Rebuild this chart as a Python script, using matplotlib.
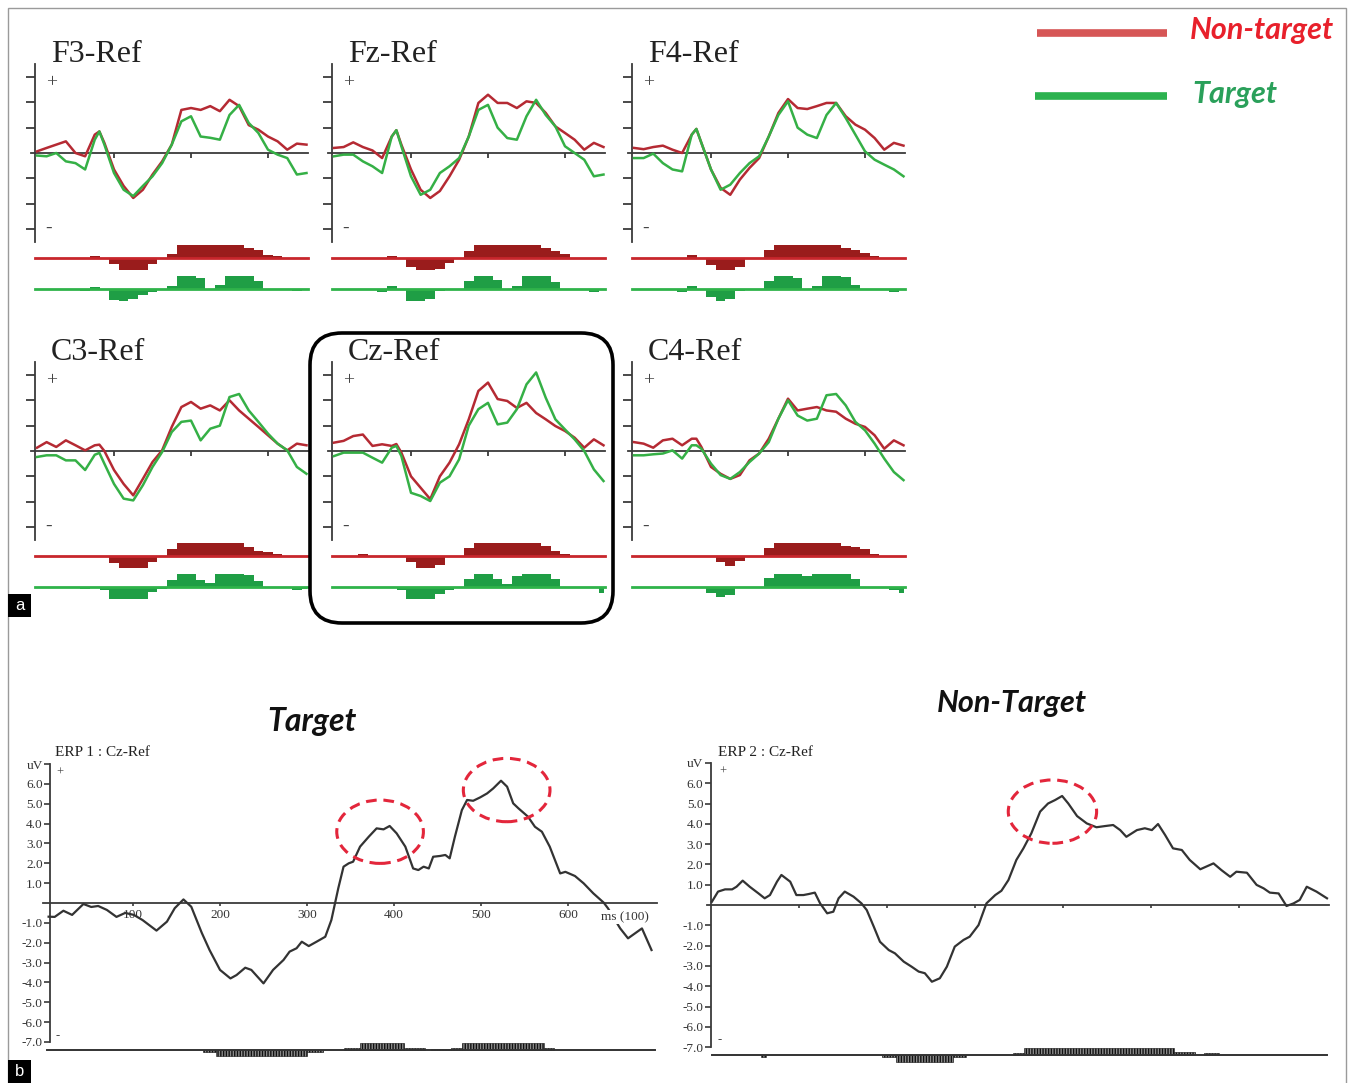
import numpy as np
import matplotlib
matplotlib.use('Agg')
import matplotlib.pyplot as plt
from matplotlib.patches import FancyBboxPatch, Rectangle, Ellipse

plt.rcParams['font.family'] = ['Liberation Serif', 'DejaVu Serif']

# ---- top grid: grand averages (uV), 0..700 ms every 25 ms plus the early peak at 162 ms ----
t_top = [0, 25, 50, 75, 100, 125, 150, 162, 175, 200, 225, 250, 275, 300, 325, 350, 375, 400, 425,
         450, 475, 500, 525, 550, 575, 600, 625, 650, 675, 700]

f3_nt = [0.13, 0.4, 0.66, 0.92, 0.0, -0.26, 1.45, 1.7, 0.8, -1.3, -2.6, -3.55, -2.9, -1.7, -0.66, 0.66,
         3.4, 3.55, 3.4, 3.7, 3.3, 4.2, 3.7, 2.2, 1.84, 1.3, 0.92, 0.26, 0.74, 0.66]
f3_t = [-0.2, -0.26, 0.0, -0.66, -0.8, -1.3, 1.05, 1.7, 0.66, -1.58, -2.9, -3.4, -2.6, -1.84, -0.8, 0.66,
        2.5, 2.9, 1.3, 1.2, 1.05, 3.0, 3.8, 2.37, 1.58, 0.26, -0.13, -0.4, -1.7, -1.58]
fz_nt = [0.4, 0.47, 0.84, 0.47, 0.2, -0.4, 1.3, 1.8, 0.66, -1.3, -2.9, -3.55, -3.0, -1.84, -0.53, 1.3,
         3.95, 4.6, 3.95, 3.95, 3.55, 4.08, 3.95, 3.16, 2.1, 1.58, 1.05, 0.26, 0.8, 0.47]
fz_t = [-0.26, -0.13, -0.13, -0.66, -1.05, -1.58, 1.3, 1.8, 0.53, -1.84, -3.3, -2.9, -1.58, -1.05, -0.4, 1.3,
        3.4, 3.8, 2.0, 1.18, 1.05, 2.9, 4.2, 3.0, 2.1, 0.53, 0.0, -0.53, -1.84, -1.7]
f4_nt = [0.4, 0.3, 0.47, 0.58, 0.26, 0.0, 1.45, 1.9, 0.8, -1.3, -2.75, -3.3, -2.1, -1.18, -0.4, 1.3,
         3.16, 4.26, 3.55, 3.47, 3.7, 3.95, 3.95, 2.9, 2.24, 1.84, 1.18, 0.26, 0.8, 0.58]
f4_t = [-0.4, -0.4, -0.05, -0.8, -1.3, -1.45, 1.45, 1.9, 0.8, -1.3, -2.9, -2.5, -1.58, -0.8, -0.26, 1.3,
        3.0, 4.08, 2.0, 1.45, 1.18, 3.0, 3.95, 2.76, 1.45, 0.13, -0.53, -0.92, -1.3, -1.84]
c3_nt = [0.26, 0.7, 0.32, 0.84, 0.45, 0.05, 0.45, 0.5, 0.0, -1.5, -2.6, -3.5, -2.2, -0.87, 0.05, 1.9,
         3.47, 3.87, 3.34, 3.6, 3.2, 4.0, 3.2, 2.55, 1.9, 1.24, 0.58, 0.05, 0.58, 0.45]
c3_t = [-0.47, -0.34, -0.34, -0.74, -0.74, -1.5, -0.3, -0.15, -1.0, -2.6, -3.76, -3.9, -2.7, -1.26, -0.08, 1.5,
        2.3, 2.4, 0.84, 1.76, 2.0, 4.26, 4.5, 3.2, 2.3, 1.37, 0.58, 0.05, -1.26, -1.8]
cz_nt = [0.66, 0.8, 1.18, 1.3, 0.4, 0.53, 0.4, 0.55, -0.13, -2.0, -2.9, -3.8, -2.0, -0.92, 0.53, 2.5,
         4.74, 5.4, 4.1, 3.95, 3.4, 3.8, 3.0, 2.5, 1.97, 1.58, 1.05, 0.26, 0.92, 0.45]
cz_t = [-0.4, -0.13, -0.13, -0.13, -0.53, -0.92, 0.26, 0.4, -0.4, -3.3, -3.55, -3.95, -2.5, -2.0, -0.66, 2.0,
        3.3, 3.8, 2.1, 2.24, 3.3, 5.26, 6.2, 4.2, 2.5, 1.7, 0.92, 0.0, -1.45, -2.37]
c4_nt = [0.7, 0.58, 0.26, 0.84, 0.97, 0.45, 0.97, 0.97, 0.32, -1.26, -1.8, -2.2, -1.9, -0.74, -0.2, 0.97,
         2.55, 4.13, 3.2, 3.34, 3.47, 3.2, 3.1, 2.55, 2.15, 1.9, 1.24, 0.18, 0.84, 0.45]
c4_t = [-0.34, -0.34, -0.26, -0.2, 0.05, -0.6, 0.45, 0.45, 0.18, -1.0, -1.9, -2.2, -1.66, -0.87, -0.2, 0.7,
        2.55, 4.0, 2.8, 2.4, 2.55, 4.4, 4.5, 3.6, 2.3, 1.63, 0.58, -0.6, -1.66, -2.3]

# significance strips under each channel (relative height, 25 ms bins)
t_sig = np.arange(0, 701, 25)
f3_nt_sig = [0, 0, 0, 0, 0, 0, 0.1, 0, -0.5, -1, -1, -1, -0.5, 0, 0.3, 1, 1, 1, 1, 1, 1, 1, 0.8, 0.6, 0.2, 0.1, 0, 0, 0]
f3_t_sig = [0, 0, 0, 0, 0, -0.2, 0.1, -0.1, -0.9, -1, -0.8, -0.5, -0.3, 0, 0.2, 1, 1, 0.8, 0, 0.3, 1, 1, 1, 0.6, 0, 0, 0, -0.2, 0]
fz_nt_sig = [0, 0, 0, 0, 0, 0, 0.15, 0, -0.7, -1, -1, -0.9, -0.4, 0, 0.5, 1, 1, 1, 1, 1, 1, 1, 0.8, 0.5, 0.3, 0, 0, 0, 0]
fz_t_sig = [0, 0, 0, 0, 0, -0.3, 0.2, 0, -1, -1, -0.8, -0.2, 0, 0, 0.6, 1, 1, 0.7, 0, 0.2, 1, 1, 1, 0.5, 0, 0, 0, -0.3, 0]
f4_nt_sig = [0, 0, 0, 0, 0, 0, 0.2, 0, -0.6, -1, -1, -0.7, 0, 0, 0.6, 1, 1, 1, 1, 1, 1, 1, 0.8, 0.6, 0.4, 0.1, 0, 0, 0]
f4_t_sig = [0, 0, 0, 0, 0, -0.3, 0.2, 0, -0.7, -1, -0.8, -0.2, 0, 0, 0.6, 1, 1, 0.8, 0, 0.2, 1, 1, 0.9, 0.3, 0, 0, 0, -0.3, 0]
c3_nt_sig = [0, 0, 0, 0, 0, 0, 0, 0, -0.6, -1, -1, -1, -0.5, 0, 0.5, 1, 1, 1, 1, 1, 1, 1, 0.7, 0.4, 0.3, 0.1, 0, 0, 0]
c3_t_sig = [0, 0, 0, 0, 0, -0.2, 0, -0.3, -1, -1, -1, -1, -0.4, -0.2, 0.5, 1, 1, 0.5, 0.3, 1, 1, 1, 0.9, 0.4, 0, 0, 0, -0.3, -0.2]
cz_nt_sig = [0, 0, 0, 0.1, 0, 0, 0, 0, -0.5, -1, -1, -0.7, -0.1, 0, 0.6, 1, 1, 1, 1, 1, 1, 1, 0.8, 0.4, 0.1, 0, 0, 0, 0]
cz_t_sig = [0, 0, 0, 0, 0, 0, 0, -0.3, -1, -1, -1, -0.6, -0.3, 0, 0.6, 1, 1, 0.6, 0.2, 0.8, 1, 1, 1, 0.6, 0, 0, 0, 0, -0.5]
c4_nt_sig = [0, 0, 0, 0, 0, 0, 0, 0, 0, -0.5, -0.8, -0.4, 0, 0, 0.6, 1, 1, 1, 1, 1, 1, 1, 0.8, 0.7, 0.5, 0.1, 0, 0, 0]
c4_t_sig = [0, 0, 0, 0, 0, 0, 0, 0, -0.5, -0.8, -0.7, 0, 0, 0, 0.7, 1, 1, 1, 0.8, 1, 1, 1, 1, 0.6, 0, 0, 0, -0.3, -0.5]

# ---- bottom: Cz-Ref ERPs ----
tgt_ms = [3, 10, 20, 30, 43, 52, 60, 70, 81, 91, 101, 111, 127, 139, 148, 158, 167, 179, 188, 200,
          212, 219, 229, 236, 250, 261, 273, 280, 288, 294, 302, 311, 321, 328, 336, 342, 348, 353,
          361, 371, 380, 388, 395, 403, 413, 422, 428, 434, 440, 445, 453, 459, 464, 470, 478, 484,
          491, 499, 507, 514, 523, 530, 537, 543, 554, 562, 570, 579, 591, 597, 608, 618, 629, 641,
          646, 660, 669, 685, 696]
tgt_uv = [-0.69, -0.7, -0.39, -0.6, -0.05, -0.2, -0.15, -0.35, -0.7, -0.5, -0.6, -0.86, -1.39, -0.94,
          -0.26, 0.18, -0.19, -1.5, -2.37, -3.37, -3.8, -3.63, -3.26, -3.37, -4.05, -3.37, -2.87,
          -2.45, -2.28, -1.95, -2.17, -1.95, -1.7, -0.86, 0.75, 1.83, 2.0, 2.08, 2.84, 3.34, 3.76,
          3.71, 3.88, 3.51, 2.84, 1.74, 1.66, 1.83, 1.74, 2.33, 2.37, 2.42, 2.25, 3.34, 4.68, 5.19,
          5.15, 5.32, 5.52, 5.77, 6.16, 5.86, 5.02, 4.77, 4.35, 3.84, 3.59, 2.84, 1.49, 1.57, 1.36,
          0.99, 0.49, 0.02, -0.27, -1.28, -1.78, -1.28, -2.37]
ntg_ms = [1, 8, 16, 24, 29, 36, 44, 54, 61, 67, 75, 80, 90, 97, 105, 111, 118, 124, 132, 139, 145,
          152, 162, 171, 177, 185, 192, 202, 209, 219, 228, 236, 243, 251, 260, 268, 277, 287, 294,
          304, 313, 323, 330, 338, 347, 355, 364, 374, 383, 391, 399, 406, 416, 427, 438, 448, 457,
          465, 472, 484, 493, 501, 508, 516, 525, 535, 544, 556, 571, 580, 590, 597, 609, 620, 628,
          635, 645, 654, 662, 669, 677, 688, 700]
ntg_uv = [0.16, 0.66, 0.77, 0.77, 0.9, 1.2, 0.9, 0.57, 0.33, 0.49, 1.15, 1.48, 1.15, 0.49, 0.49, 0.54,
          0.61, 0.08, -0.41, -0.33, 0.33, 0.66, 0.41, 0.08, -0.25, -1.07, -1.81, -2.22, -2.38, -2.79,
          -3.04, -3.28, -3.36, -3.78, -3.61, -3.04, -2.05, -1.72, -1.56, -0.99, 0.08, 0.49, 0.7, 1.23,
          2.22, 2.79, 3.53, 4.6, 5.0, 5.17, 5.37, 5.0, 4.38, 4.02, 3.83, 3.89, 3.94, 3.69, 3.36, 3.69,
          3.78, 3.69, 3.99, 3.45, 2.79, 2.71, 2.22, 1.76, 2.05, 1.72, 1.39, 1.64, 1.59, 0.99, 0.82,
          0.61, 0.57, -0.05, 0.08, 0.25, 0.9, 0.66, 0.33]

# significant spans (start ms, end ms, bar height)
tgt_spans = [(180, 195, -0.12), (195, 300, -0.32), (300, 318, -0.12), (342, 361, 0.12), (361, 412, 0.34),
             (412, 436, 0.1), (442, 466, 0.06), (466, 478, 0.12), (478, 572, 0.34), (572, 584, 0.12)]
ntg_spans = [(57, 62, -0.1), (194, 210, -0.12), (210, 275, -0.32), (275, 290, -0.12), (343, 356, 0.12),
             (356, 526, 0.34), (526, 550, 0.14), (560, 577, 0.08)]

# highlighted peaks: (ms, uV, width ms, height uV)
tgt_peaks = [(384, 3.59, 99.6, 3.19), (529.5, 5.69, 99.6, 3.19)]
ntg_peaks = [(388, 4.6, 100.4, 3.12)]

uv_ticks = [-7, -6, -5, -4, -3, -2, -1, 1, 2, 3, 4, 5, 6, 7]
uv_labels = ['-7.0', '-6.0', '-5.0', '-4.0', '-3.0', '-2.0', '-1.0', '1.0', '2.0', '3.0', '4.0', '5.0', '6.0', 'uV']
ms_ticks = [100, 200, 300, 400, 500, 600]

RED = '#b52a33'
GREEN = '#35b046'
RED_FILL = '#9a1c1c'
GREEN_FILL = '#1f9e45'
AX = '#3a3a3a'

W, H = 1350, 1083
fig = plt.figure(figsize=(W / 100, H / 100), dpi=100)


def add_box(x0, y0, x1, y1, **kw):
  return fig.add_axes([x0 / W, 1 - y1 / H, (x1 - x0) / W, (y1 - y0) / H], **kw)


PX_MS = 0.385
PX_UV = 12.67


def top_panel(t0, zy, nt, tg, nt_sig, tg_sig):
  ax = add_box(t0 - 20, zy - 100, t0 + 285, zy + 150)
  ax.set_xlim(-20 / PX_MS, 285 / PX_MS)
  ax.set_ylim(-150 / PX_UV, 100 / PX_UV)
  ax.patch.set_alpha(0)
  for s in ['top', 'right']:
    ax.spines[s].set_visible(False)
  ax.spines['left'].set_position(('data', -6))
  ax.spines['left'].set_bounds(-7, 7)
  ax.spines['bottom'].set_position(('data', 0))
  ax.spines['bottom'].set_bounds(-15, 703)
  for s in ['left', 'bottom']:
    ax.spines[s].set_color(AX)
    ax.spines[s].set_linewidth(1.3)
  ax.set_yticks([-6, -4, -2, 2, 4, 6])
  ax.set_xticks([200, 400, 600])
  ax.tick_params(axis='y', direction='out', length=6.5, width=1.3, color=AX, labelleft=False)
  ax.tick_params(axis='x', direction='out', length=3.5, width=1.3, color=AX, labelbottom=False)
  ax.plot(t_top, nt, color=RED, lw=1.8, zorder=3)
  ax.plot(t_top, tg, color=GREEN, lw=1.8, zorder=3)
  red_base = -104.7 / PX_UV
  green_base = -135.5 / PX_UV
  ax.fill_between(t_sig, red_base, red_base + np.array(nt_sig), step='mid', color=RED_FILL, lw=0)
  ax.fill_between(t_sig, green_base, green_base + np.array(tg_sig), step='mid', color=GREEN_FILL, lw=0)
  ax.plot([-5, 703], [red_base, red_base], color='#c8262c', lw=2)
  ax.plot([-5, 703], [green_base, green_base], color='#2fb34a', lw=2)
  return ax


top_specs = [
  ('F3-Ref', 37, 153, f3_nt, f3_t, f3_nt_sig, f3_t_sig),
  ('Fz-Ref', 334, 153, fz_nt, fz_t, fz_nt_sig, fz_t_sig),
  ('F4-Ref', 634, 153, f4_nt, f4_t, f4_nt_sig, f4_t_sig),
  ('C3-Ref', 37, 451, c3_nt, c3_t, c3_nt_sig, c3_t_sig),
  ('Cz-Ref', 334, 451, cz_nt, cz_t, cz_nt_sig, cz_t_sig),
  ('C4-Ref', 634, 451, c4_nt, c4_t, c4_nt_sig, c4_t_sig),
]
for name, t0, zy, nt, tg, ns, ts in top_specs:
  top_panel(t0, zy, nt, tg, ns, ts)


def erp_panel(box, t0, zy, pxms, pxuv, ms, uv, spans, peaks, base, spine_x, xlabels):
  x0, y0, x1, y1 = box
  ax = add_box(x0, y0, x1, y1)
  ax.set_xlim((x0 - t0) / pxms, (x1 - t0) / pxms)
  ax.set_ylim((zy - y1) / pxuv, (zy - y0) / pxuv)
  ax.patch.set_alpha(0)
  for s in ['top', 'right']:
    ax.spines[s].set_visible(False)
  ax.spines['left'].set_position(('data', spine_x))
  ax.spines['left'].set_bounds(-7, 7)
  ax.spines['bottom'].set_position(('data', 0))
  ax.spines['bottom'].set_bounds(-4, 702)
  for s in ['left', 'bottom']:
    ax.spines[s].set_color(AX)
    ax.spines[s].set_linewidth(1.3)
  ax.set_yticks(uv_ticks)
  ax.set_yticklabels(uv_labels, fontsize=9.5, color='#333333')
  ax.set_xticks(ms_ticks)
  if xlabels:
    ax.set_xticklabels([str(m) for m in ms_ticks], fontsize=9.5, color='#333333')
  else:
    ax.set_xticklabels([])
  ax.tick_params(axis='y', direction='out', length=4.5, width=1.2, color=AX, pad=1)
  ax.tick_params(axis='x', direction='out', length=2.5, width=1.2, color=AX, pad=2)
  ax.plot(ms, uv, color='#333333', lw=1.6, zorder=3)
  ax.plot([1, 700], [base, base], color='#333333', lw=1.4)
  for start, end, h in spans:
    ax.bar(start, h, width=end - start, bottom=base, align='edge', facecolor='#8a8a8a',
           edgecolor='#111111', hatch='||||||', linewidth=0.4)
  for cx, cy, w, h in peaks:
    ax.add_patch(Ellipse((cx, cy), w, h, fill=False, ec='#e3263b', lw=2.2,
                         ls=(0, (3.5, 2.2)), zorder=4))
  return ax


plt.rcParams['hatch.linewidth'] = 1.0
ax_t = erp_panel((40, 740, 660, 1062), 46, 903, 0.87, 19.85, tgt_ms, tgt_uv, tgt_spans, tgt_peaks,
                 -7.41, 5, True)
ax_t.text(665, -0.7, 'ms (100)', ha='center', va='center', fontsize=9.5, color='#333333', zorder=5,
          bbox=dict(facecolor='white', edgecolor='none', pad=0.5))
ax_n = erp_panel((690, 740, 1340, 1066), 711, 905, 0.88, 20.3, ntg_ms, ntg_uv, ntg_spans, ntg_peaks,
                 -7.39, 0, False)

# ---- overlay in pixel coordinates for labels and frames ----
ov = fig.add_axes([0, 0, 1, 1], zorder=10)
ov.set_xlim(0, W)
ov.set_ylim(H, 0)
ov.axis('off')
ov.patch.set_alpha(0)

ov.add_patch(Rectangle((8, 8), 1338, 1076, fill=False, ec='#9a9a9a', lw=1))
ov.add_patch(FancyBboxPatch((310, 333), 303, 290, boxstyle='round,pad=0,rounding_size=32',
                            fill=False, ec='black', lw=2.6))

for name, t0, zy, *_ in top_specs:
  ov.text(t0 + 14, zy - 99, name, fontsize=23, color='#222222', ha='left', va='center')
  ov.text(t0 + 15, zy - 70, '+', fontsize=14, color='#444444', ha='center', va='center')
  ov.text(t0 + 12, zy + 75, '-', fontsize=14, color='#444444', ha='center', va='center')

# legend
ov.plot([1037, 1167], [33, 33], color='#d65656', lw=5.5, solid_capstyle='butt')
ov.plot([1035, 1167], [96, 96], color='#2cb24f', lw=5.5, solid_capstyle='butt')
ov.text(1190, 30, 'Non-target', fontsize=22, color='#e8202b', family=['Lato', 'DejaVu Sans'],
        fontweight='bold', fontstyle='italic', ha='left', va='center')
ov.text(1192, 94, 'Target', fontsize=22, color='#2aa05a', family=['Lato', 'DejaVu Sans'],
        fontweight='bold', fontstyle='italic', ha='left', va='center')

# panel letters
for lab, y in [('a', 594), ('b', 1060)]:
  ov.add_patch(Rectangle((8, y), 23, 23, facecolor='black', ec='none'))
  ov.text(19.5, y + 11, lab, fontsize=12, color='white', family=['Liberation Sans', 'DejaVu Sans'],
          ha='center', va='center')

# bottom titles and ERP headers
ov.text(312, 721, 'Target', fontsize=23, color='#111111', family=['Lato', 'DejaVu Sans'],
        fontweight='bold', fontstyle='italic', ha='center', va='center')
ov.text(1012, 703, 'Non-Target', fontsize=22, color='#111111', family=['Lato', 'DejaVu Sans'],
        fontweight='bold', fontstyle='italic', ha='center', va='center')
ov.text(55, 753, 'ERP 1 : Cz-Ref', fontsize=11, color='#222222', ha='left', va='center')
ov.text(718, 752, 'ERP 2 : Cz-Ref', fontsize=11, color='#222222', ha='left', va='center')
ov.text(60, 773, '+', fontsize=9, color='#444444', ha='center', va='center')
ov.text(58, 1036, '-', fontsize=9, color='#444444', ha='center', va='center')
ov.text(723, 772, '+', fontsize=9, color='#444444', ha='center', va='center')
ov.text(720, 1040, '-', fontsize=9, color='#444444', ha='center', va='center')

fig.savefig('out.png', dpi=100)
